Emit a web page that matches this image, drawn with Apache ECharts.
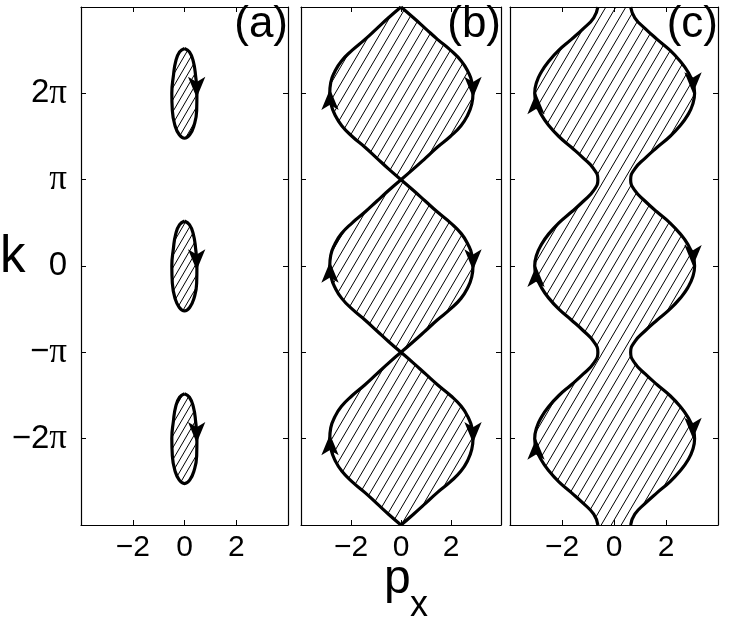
<!DOCTYPE html>
<html>
<head>
<meta charset="utf-8">
<script src="https://cdn.jsdelivr.net/npm/echarts@6/dist/echarts.min.js"></script>
<style>
html, body { margin: 0; padding: 0; background: #fff; }
#chart { width: 747px; height: 635px; }
</style>
</head>
<body>
<div id="chart"></div>
<script>
// k is given in units of pi
const kGrid = [-3, -2.875, -2.75, -2.625, -2.5, -2.375, -2.25, -2.125, -2, -1.875, -1.75, -1.625, -1.5, -1.375, -1.25, -1.125,
  -1, -0.875, -0.75, -0.625, -0.5, -0.375, -0.25, -0.125, 0, 0.125, 0.25, 0.375, 0.5, 0.625, 0.75, 0.875,
  1, 1.125, 1.25, 1.375, 1.5, 1.625, 1.75, 1.875, 2, 2.125, 2.25, 2.375, 2.5, 2.625, 2.75, 2.875, 3]
const kTicks = [-2, -1, 0, 1, 2]
const kTickLabels = ['−2π', '−π', '0', 'π', '2π']
const pxTicks = [-2, 0, 2]
const pxTickLabels = ['−2', '0', '2']
const panelNames = ['(a)', '(b)', '(c)']

// (a) small closed orbits
const orbitCentres = [2, 0, -2]
const orbitPx = [0, 0.19, 0.34, 0.43, 0.48, 0.47, 0.37, 0.20, 0, -0.20, -0.37, -0.47, -0.49, -0.43, -0.34, -0.19, 0]
const orbitDk = [0.52, 0.48, 0.37, 0.20, 0, -0.20, -0.37, -0.48, -0.52, -0.48, -0.37, -0.20, 0, 0.20, 0.37, 0.48, 0.52]
const arrowsA = [[0.47, 1.95], [0.47, -0.05], [0.47, -2.05]]

// (b) touching lobes
const pxBRight = [0, 0.50, 0.98, 1.45, 1.97, 2.40, 2.67, 2.83, 2.88, 2.84, 2.68, 2.41, 1.98, 1.46, 0.98, 0.50,
  0, 0.50, 0.98, 1.45, 1.97, 2.40, 2.67, 2.83, 2.88, 2.84, 2.68, 2.41, 1.98, 1.46, 0.98, 0.50,
  0, 0.50, 0.98, 1.45, 1.97, 2.40, 2.67, 2.83, 2.88, 2.84, 2.68, 2.41, 1.98, 1.46, 0.98, 0.50, 0]
const pxBLeft = [0, -0.50, -0.97, -1.44, -1.95, -2.37, -2.64, -2.80, -2.85, -2.81, -2.65, -2.38, -1.95, -1.44, -0.97, -0.50,
  0, -0.50, -0.97, -1.44, -1.95, -2.37, -2.64, -2.80, -2.85, -2.81, -2.65, -2.38, -1.95, -1.44, -0.97, -0.50,
  0, -0.50, -0.97, -1.44, -1.95, -2.37, -2.64, -2.80, -2.85, -2.81, -2.65, -2.38, -1.95, -1.44, -0.97, -0.50, 0]
const cuspsB = [-1, 1]
const arrowsBUp = [[-2.84, 2.05], [-2.84, 0.05], [-2.84, -1.95]]
const arrowsBDown = [[2.88, 1.95], [2.88, -0.05], [2.88, -2.05]]

// (c) connected channel
const pxCRight = [0.64, 0.80, 1.20, 1.66, 2.15, 2.54, 2.84, 3.03, 3.10, 3.03, 2.84, 2.54, 2.15, 1.66, 1.20, 0.80,
  0.64, 0.80, 1.20, 1.66, 2.15, 2.54, 2.84, 3.03, 3.10, 3.03, 2.84, 2.54, 2.15, 1.66, 1.20, 0.80,
  0.64, 0.80, 1.20, 1.66, 2.15, 2.54, 2.84, 3.03, 3.10, 3.03, 2.84, 2.54, 2.15, 1.66, 1.20, 0.80, 0.64]
const pxCLeft = [-0.62, -0.78, -1.18, -1.64, -2.12, -2.50, -2.79, -2.98, -3.05, -2.98, -2.79, -2.50, -2.12, -1.64, -1.18, -0.78,
  -0.62, -0.78, -1.18, -1.64, -2.12, -2.50, -2.79, -2.98, -3.05, -2.98, -2.79, -2.50, -2.12, -1.64, -1.18, -0.78,
  -0.62, -0.78, -1.18, -1.64, -2.12, -2.50, -2.79, -2.98, -3.05, -2.98, -2.79, -2.50, -2.12, -1.64, -1.18, -0.78, -0.62]
const arrowsCUp = [[-3.0, 2], [-3.0, 0], [-3.0, -2]]
const arrowsCDown = [[3.04, 2], [3.04, 0], [3.04, -2]]

const grids = [
  { left: 81, top: 7, width: 207, height: 518 },
  { left: 301, top: 7, width: 200, height: 518 },
  { left: 510, top: 7, width: 208, height: 518 }
]

const FONT = '"Liberation Sans", Arial, sans-serif'

function hatchPattern (step, h) {
  const c = document.createElement('canvas')
  c.width = step
  c.height = h
  const g = c.getContext('2d')
  g.strokeStyle = '#000'
  g.lineWidth = 1
  g.beginPath()
  for (const dx of [-step, 0, step]) {
    g.moveTo(dx, h)
    g.lineTo(dx + step, 0)
  }
  g.stroke()
  return c
}
const hatchWide = hatchPattern(10, 17)
const hatchNarrow = hatchPattern(7, 12)

const toPts = (xs) => xs.map((x, i) => [x, kGrid[i]])

// split a curve at cusps so smoothing keeps them sharp
function splitAt (pts, cusps) {
  const segs = [[]]
  pts.forEach(p => {
    segs[segs.length - 1].push(p)
    if (cusps.includes(p[1])) segs.push([p])
  })
  return segs
}

const orbits = orbitCentres.map(c => orbitPx.map((x, i) => [x, c + orbitDk[i]]))
const bRight = toPts(pxBRight)
const bLeft = toPts(pxBLeft)
const cRight = toPts(pxCRight)
const cLeft = toPts(pxCLeft)

const hatch = (i, polys, pattern) => ({
  type: 'custom',
  xAxisIndex: 2 * i,
  yAxisIndex: 2 * i,
  silent: true,
  z: 1,
  data: polys.map(p => p[0]),
  renderItem: (params, api) => ({
    type: 'polygon',
    shape: { points: polys[params.dataIndex].map(p => api.coord(p)) },
    style: { fill: { image: pattern, repeat: 'repeat' }, stroke: null }
  })
})

const curve = (i, pts) => ({
  type: 'line',
  xAxisIndex: 2 * i,
  yAxisIndex: 2 * i,
  data: pts,
  smooth: true,
  symbol: 'none',
  silent: true,
  lineStyle: { color: '#000', width: 3.2 },
  z: 3
})

const arrows = (i, pts, rot) => ({
  type: 'scatter',
  xAxisIndex: 2 * i,
  yAxisIndex: 2 * i,
  data: pts,
  symbol: 'arrow',
  symbolSize: [13, 21],
  symbolRotate: rot,
  silent: true,
  itemStyle: { color: '#000', opacity: 1 },
  z: 4
})

const axisLine = { show: true, onZero: false, lineStyle: { color: '#000', width: 1.2 } }
const axisTick = { show: true, inside: true, length: 5, lineStyle: { color: '#000', width: 1 } }

const xAxes = []
const yAxes = []
grids.forEach((g, i) => {
  xAxes.push({
    type: 'value', gridIndex: i, min: -4, max: 4, interval: 2, position: 'bottom',
    axisLine, axisTick, splitLine: { show: false },
    axisLabel: {
      color: '#000', fontFamily: FONT, fontSize: 30, margin: 8,
      formatter: v => pxTickLabels[pxTicks.indexOf(v)] ?? ''
    }
  })
  xAxes.push({
    type: 'value', gridIndex: i, min: -4, max: 4, interval: 2, position: 'top',
    axisLine, axisTick, splitLine: { show: false }, axisLabel: { show: false }
  })
  yAxes.push({
    type: 'value', gridIndex: i, min: -3, max: 3, interval: 1, position: 'left',
    axisLine, axisTick, splitLine: { show: false },
    axisLabel: {
      show: i === 0, margin: 14,
      formatter: v => {
        const s = kTickLabels[kTicks.indexOf(v)]
        if (s === undefined) return ''
        const num = s.replace('π', '')
        return (num ? `{n|${num}}` : '') + (s.includes('π') ? '{p|π}' : '')
      },
      rich: {
        n: { color: '#000', fontFamily: FONT, fontSize: 33 },
        p: { color: '#000', fontFamily: '"Liberation Serif", "DejaVu Serif", serif', fontSize: 35 }
      }
    }
  })
  yAxes.push({
    type: 'value', gridIndex: i, min: -3, max: 3, interval: 1, position: 'right',
    axisLine, axisTick, splitLine: { show: false }, axisLabel: { show: false }
  })
})

const series = [
  hatch(0, orbits, hatchNarrow),
  ...orbits.map(o => curve(0, o)),
  arrows(0, arrowsA, 180),

  hatch(1, [bRight.concat(bLeft.slice().reverse())], hatchWide),
  ...splitAt(bRight, cuspsB).map(s => curve(1, s)),
  ...splitAt(bLeft, cuspsB).map(s => curve(1, s)),
  arrows(1, arrowsBUp, 0),
  arrows(1, arrowsBDown, 180),

  hatch(2, [cRight.concat(cLeft.slice().reverse())], hatchWide),
  curve(2, cRight),
  curve(2, cLeft),
  arrows(2, arrowsCUp, 0),
  arrows(2, arrowsCDown, 180)
]

const textEl = (text, x, y, size, align) => ({
  type: 'text', x, y, silent: true,
  style: { text, font: `${size}px ${FONT}`, fill: '#000', align, verticalAlign: 'top' }
})

const chart = echarts.init(document.getElementById('chart'), null, { renderer: 'canvas' })
chart.setOption({
  animation: false,
  backgroundColor: '#fff',
  grid: grids,
  xAxis: xAxes,
  yAxis: yAxes,
  series,
  graphic: [
    textEl(panelNames[0], 288, 3, 44, 'right'),
    textEl(panelNames[1], 501, 3, 44, 'right'),
    textEl(panelNames[2], 718, 3, 44, 'right'),
    textEl('k', 0, 232, 51, 'left'),
    textEl('p', 384, 556, 48, 'left'),
    textEl('x', 410, 588, 36, 'left')
  ]
})
</script>
</body>
</html>
